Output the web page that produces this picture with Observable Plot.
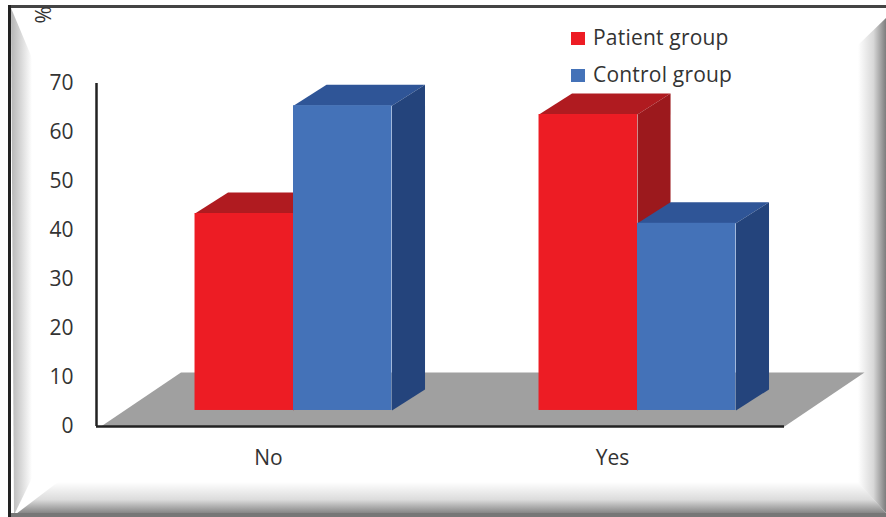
<!DOCTYPE html>
<html>
<head>
<meta charset="utf-8">
<script src="https://cdn.jsdelivr.net/npm/d3@7"></script>
<script src="https://cdn.jsdelivr.net/npm/@observablehq/plot@0.6"></script>
<style>
  html, body { margin: 0; padding: 0; background: #fff; overflow: hidden; }
  #stage { position: relative; width: 886px; height: 517px; font-family: "Open Sans", sans-serif; color: #333; }
  #bevel, #chart { position: absolute; left: 0; top: 0; }
  #chart svg { background: transparent; display: block; }
  .legend-row { position: absolute; left: 571px; font-size: 21px; line-height: 26px; letter-spacing: 0.2px; white-space: nowrap; }
  .legend-row i { display: inline-block; width: 14px; height: 13px; margin-right: 8px; }
</style>
</head>
<body>
<div id="stage">
  <svg id="bevel" width="886" height="517">
    <defs>
      <linearGradient id="fadeLeft" x1="0" x2="1" y1="0" y2="0"><stop offset="0" stop-color="#b5b5b5"/><stop offset="1" stop-color="#fff"/></linearGradient>
      <linearGradient id="fadeRight" x1="0" x2="1" y1="0" y2="0"><stop offset="0" stop-color="#fff"/><stop offset="0.55" stop-color="#d8d8d8"/><stop offset="1" stop-color="#7d7d7d"/></linearGradient>
      <linearGradient id="fadeBottom" x1="0" x2="0" y1="0" y2="1"><stop offset="0" stop-color="#fff"/><stop offset="0.55" stop-color="#dcdcdc"/><stop offset="1" stop-color="#808080"/></linearGradient>
    </defs>
    <polygon points="11,8 32,58 32,478 14,515" fill="url(#fadeLeft)"/>
    <polygon points="858,45 886,18 886,513 858,483" fill="url(#fadeRight)"/>
    <polygon points="16,514 58,482 858,482 886,513" fill="url(#fadeBottom)"/>
    <rect x="8" y="5" width="878" height="3" fill="#444"/>
    <rect x="8" y="5" width="3" height="512" fill="#222"/>
    <rect x="11" y="513" width="875" height="4" fill="#777"/>
  </svg>
  <div id="chart"></div>
  <div class="legend-row" style="top:24px"><i style="background:#ed1c24"></i>Patient group</div>
  <div class="legend-row" style="top:61px"><i style="background:#4472b8"></i>Control group</div>
</div>
<script>
// Percentages per answer and group
const categories = ["No", "Yes"];
const patientGroup = [40.2, 60.4];
const controlGroup = [62.2, 38.2];
const yTicks = [0, 10, 20, 30, 40, 50, 60, 70];

// Oblique depth of the floor and columns, in x-scale and y-scale units
const floorDepth = {x: 0.2326, y: 11};
const floorStart = -0.487;
const floorEnd = 1.5;
const columnLift = 3.27;
const columnShift = 0.0727;
const columnWidth = 0.2863;
const columnDepth = {x: 0.096, y: 4.3};

const palette = {
  patient: {front: "#ed1c24", top: "#b01b20", side: "#9c191d"},
  control: {front: "#4472b8", top: "#2f5597", side: "#24447c"}
};

const series = [
  {key: "patient", values: patientGroup, offset: -1},
  {key: "control", values: controlGroup, offset: 0}
];

const columns = categories.flatMap((category, i) => series.map(s => {
  const x1 = i + columnShift + s.offset * columnWidth;
  return {
    category, value: s.values[i], colors: palette[s.key],
    x1, x2: x1 + columnWidth,
    y1: columnLift, y2: columnLift + s.values[i]
  };
}));

const polygon = (points, fill) =>
  Plot.line(points, {x: "x", y: "y", fill, stroke: null, curve: "linear-closed"});

const floor = [
  {x: floorStart, y: 0},
  {x: floorEnd, y: 0},
  {x: floorEnd + floorDepth.x, y: floorDepth.y},
  {x: floorStart + floorDepth.x, y: floorDepth.y}
];

const columnMarks = columns.flatMap(c => {
  const dx = columnDepth.x, dy = columnDepth.y;
  return [
    polygon([
      {x: c.x1, y: c.y2}, {x: c.x2, y: c.y2},
      {x: c.x2 + dx, y: c.y2 + dy}, {x: c.x1 + dx, y: c.y2 + dy}
    ], c.colors.top),
    polygon([
      {x: c.x2, y: c.y1}, {x: c.x2 + dx, y: c.y1 + dy},
      {x: c.x2 + dx, y: c.y2 + dy}, {x: c.x2, y: c.y2}
    ], c.colors.side),
    Plot.rect([c], {x1: "x1", x2: "x2", y1: "y1", y2: "y2", fill: c.colors.front})
  ];
});

const chart = Plot.plot({
  width: 886,
  height: 517,
  marginLeft: 96,
  marginRight: 102,
  marginTop: 83,
  marginBottom: 91,
  style: {fontFamily: "'Open Sans', sans-serif", fontSize: "21px", color: "#333", background: "transparent"},
  x: {domain: [-0.5, 1.5], axis: null},
  y: {domain: [0, 70], axis: null},
  marks: [
    polygon(floor, "#a0a0a0"),
    ...columnMarks,
    Plot.ruleX([-0.5], {y1: 0, y2: 70, stroke: "#222", strokeWidth: 2.5}),
    Plot.ruleY([0], {x1: -0.5, x2: 1.5, stroke: "#222", strokeWidth: 2.5}),
    Plot.axisY({ticks: yTicks, tickSize: 0, tickPadding: 23, label: null, tickFormat: d => String(d)}),
    Plot.text(categories, {x: (d, i) => i, y: 0, text: d => d, dy: 32, fill: "#333"}),
    Plot.text(["%"], {frameAnchor: "top-left", dx: -60, dy: -60, rotate: -90, fill: "#333"})
  ]
});
document.getElementById("chart").append(chart);
</script>
</body>
</html>
